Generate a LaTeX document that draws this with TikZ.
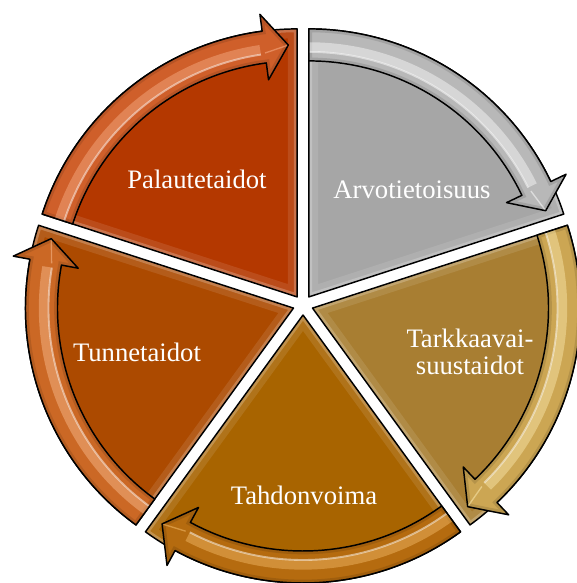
\documentclass[tikz,border=0pt]{standalone}
\usepackage{fontspec}
\setmainfont{Liberation Serif}
\definecolor{wGray}{HTML}{A6A6A6}
\definecolor{aGray}{HTML}{B8B8B8}
\definecolor{hGray}{HTML}{F4F4F4}
\definecolor{wGold}{HTML}{A87E32}
\definecolor{aGold}{HTML}{CCA653}
\definecolor{hGold}{HTML}{F7E3A6}
\definecolor{wAmber}{HTML}{A86400}
\definecolor{aAmber}{HTML}{B56B0F}
\definecolor{hAmber}{HTML}{EDB462}
\definecolor{wRust}{HTML}{AC4A00}
\definecolor{aRust}{HTML}{CB6825}
\definecolor{hRust}{HTML}{F5B688}
\definecolor{wRed}{HTML}{B43800}
\definecolor{aRed}{HTML}{CF5F2A}
\definecolor{hRed}{HTML}{F4A87F}
\begin{document}
\begin{tikzpicture}[x=0.75pt,y=0.75pt,
  outline/.style={draw=black,line width=1.1pt,line join=round},
  lbl/.style={text=white,font=\fontsize{20}{20.5}\selectfont,align=center,inner sep=0pt}]
\useasboundingbox (-303,-278) rectangle (274,305);

% One segment of the cycle: pie wedge plus the curved arrow on its rim.
% #1 start angle (segment runs 72 degrees clockwise), #2 wedge colour,
% #3 arrow colour, #4 highlight colour
\newcommand\cyclepart[4]{%
  \pgfmathsetmacro\sA{#1}%
  \pgfmathsetmacro\eA{#1-72}%
  \pgfmathsetmacro\bA{#1-36}%
  \pgfmathsetmacro\hA{#1-72+7.5}%
  \pgfmathsetmacro\tA{#1-72+2}%
  \begin{scope}[shift={(\bA:10)}]
    \def\wedgepath{(0,0) -- (\sA:268) arc[start angle=\sA, end angle=\eA, radius=268] -- cycle}%
    \def\arrowpath{(\sA:268) arc[start angle=\sA, end angle=\hA, radius=268]
      -- (\hA:285) -- (\tA:252) -- (\hA:219) -- (\hA:236)
      arc[start angle=\hA, end angle=\sA, radius=236] -- cycle}%
    % wedge with a soft bevel along its edges
    \fill[#2] \wedgepath;
    \begin{scope}
      \clip \wedgepath;
      \draw[white, opacity=.10, line width=14pt] \wedgepath;
      \draw[white, opacity=.22, line width=5pt] \wedgepath;
    \end{scope}
    \draw[outline] \wedgepath;
    % glossy rim arrow
    \fill[#3] \arrowpath;
    \begin{scope}
      \clip \arrowpath;
      \draw[#3!75!black, opacity=.45, line width=5pt] \arrowpath;
      \draw[#4, opacity=.5, line width=7pt] (\sA:250) arc[start angle=\sA, end angle=\hA+1, radius=250];
      \draw[white, opacity=.5, line width=1.4pt] (\sA:245) arc[start angle=\sA, end angle=\hA+1, radius=245];
      \draw[#4, opacity=.6, line width=1pt] (\hA:246) -- (\tA:252);
    \end{scope}
    \draw[outline] \arrowpath;
  \end{scope}%
}

\cyclepart{90}{wGray}{aGray}{hGray}
\cyclepart{18}{wGold}{aGold}{hGold}
\cyclepart{-54}{wAmber}{aAmber}{hAmber}
\cyclepart{-126}{wRust}{aRust}{hRust}
\cyclepart{162}{wRed}{aRed}{hRed}

\node[lbl] (arvo)  at (109,115)  {Arvotietoisuus};
\node[lbl] (tark)  at (167,-47)  {Tarkkaavai-\\suustaidot};
\node[lbl] (tahdo) at (1,-190)   {Tahdonvoima};
\node[lbl] (tunne) at (-166,-47) {Tunnetaidot};
\node[lbl] (pala)  at (-106,126) {Palautetaidot};
\end{tikzpicture}
\end{document}
